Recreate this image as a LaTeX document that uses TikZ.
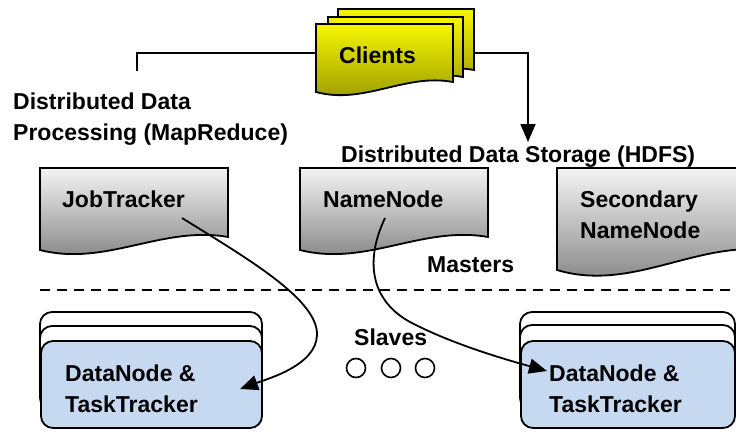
\documentclass[tikz,border=0pt]{standalone}
\usepackage{fontspec}
\setmainfont{Liberation Sans}
\usetikzlibrary{arrows.meta,calc}

\definecolor{docTop}{RGB}{244,244,244}
\definecolor{docBot}{RGB}{125,125,125}
\definecolor{cliTop}{RGB}{246,246,0}
\definecolor{cliBot}{RGB}{150,150,0}
\definecolor{slaveFill}{RGB}{198,217,240}

% document shape with a wavy bottom edge
% #1 style, #2 left x, #3 top y, #4 right x, #5 bottom y at left, #6 bottom y at right
\newcommand\docshape[6]{%
  \pgfmathsetmacro\dW{#4-#2}%
  \pgfmathsetmacro\dA{#5-#6}%
  \path[#1] (#2,#3) -- (#4,#3) -- (#4,#6)
    .. controls ({#2+0.65*\dW},{#5-1.9*\dA}) and ({#2+0.35*\dW},{#5+1.3*\dA}) .. (#2,#5) -- cycle;}

\begin{document}
\begin{tikzpicture}[x=1pt,y=-1pt,
  txt/.style={font=\fontsize{23}{31}\selectfont\bfseries, inner sep=0pt, anchor=base west, align=left},
  outline/.style={draw=black, line width=1.8pt},
  grayDoc/.style={outline, top color=docTop, bottom color=docBot},
  yellowDoc/.style={outline, top color=cliTop, bottom color=cliBot},
  stackBox/.style={outline, rounded corners=12pt, fill=white},
  frontBox/.style={outline, rounded corners=12pt, fill=slaveFill},
  link/.style={draw=black, line width=1.8pt},
  arrowEnd/.style={-{Triangle[length=18pt,width=15pt]}},
  dot/.style={circle, draw=black, line width=1.6pt, minimum size=19pt, inner sep=0pt}]

\useasboundingbox (0,0) rectangle (736,431);
\clip (0,0) rectangle (736,431);
\fill[white] (0,0) rectangle (736,431);

% connector end points
\coordinate (cliW) at (316,53);
\coordinate (cliE) at (474,53);
\coordinate (mrEnd) at (137,71);
\coordinate (hdfsIn) at (528,142);
\coordinate (jtOut) at (182,218);
\coordinate (nnOut) at (385,218);
\coordinate (dn1In) at (240,389);
\coordinate (dn2In) at (547,371);

% lines leaving the clients
\draw[link] (cliW) -| (mrEnd);
\draw[link, arrowEnd] (cliE) -| (hdfsIn);

% clients: three stacked documents
\docshape{yellowDoc}{338}{9}{474}{80}{70}
\docshape{yellowDoc}{328}{17}{463}{87}{77}
\docshape{yellowDoc}{316}{24}{453}{92}{82}
\node[txt] (clients) at (339,63) {Clients};

% group titles (multi-line nodes sit on their last baseline)
\node[txt] (mrTitle) at (13,140) {Distributed Data\\Processing (MapReduce)};
\node[txt] (hdfsTitle) at (341,162) {Distributed Data Storage (HDFS)};

% master nodes
\docshape{grayDoc}{40}{168}{228}{250}{237}
\docshape{grayDoc}{300}{168}{488}{250}{237}
\docshape{grayDoc}{557}{168}{780}{270}{252}
\node[txt] (jt) at (62,207) {JobTracker};
\node[txt] (nn) at (323,207) {NameNode};
\node[txt] (snn) at (580,238) {Secondary\\NameNode};
\node[txt] (masters) at (427,272) {Masters};

% master / slave divider
\draw[line width=2.4pt, dash pattern=on 10pt off 7pt] (40,290) -- (736,290);

% slave stacks
\path[stackBox] (40,312) rectangle (262,400);
\path[stackBox] (40,326) rectangle (262,410);
\path[frontBox] (41,341) rectangle (262,428);
\path[stackBox] (520,312) rectangle (735,400);
\path[stackBox] (520,325) rectangle (735,410);
\path[frontBox] (521,341) rectangle (735,428);
\node[txt] (dn1) at (65,412) {DataNode \&\\TaskTracker};
\node[txt] (dn2) at (549,412) {DataNode \&\\TaskTracker};

\node[txt] (slaves) at (354,345) {Slaves};
\node[dot] (c1) at (356,368) {};
\node[dot] (c2) at (391,368) {};
\node[dot] (c3) at (425,368) {};

% master to slave links
\draw[link, arrowEnd] (jtOut) .. controls (250,260) and (318,300) .. (317,335)
  .. controls (316,365) and (270,378) .. (dn1In);
\draw[link, arrowEnd] (nnOut) .. controls (365,260) and (370,300) .. (410,322)
  .. controls (450,343) and (500,358) .. (dn2In);
\end{tikzpicture}
\end{document}
